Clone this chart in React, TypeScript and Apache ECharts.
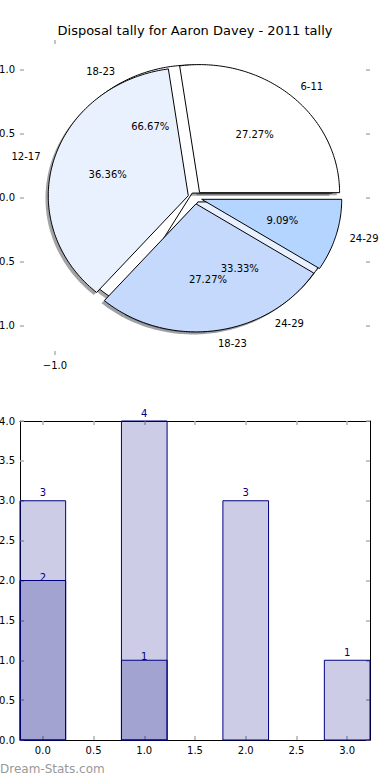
import React, { useEffect, useRef } from 'react';
import * as echarts from 'echarts';

const chartTitle = 'Disposal tally for Aaron Davey - 2011 tally';
const watermark = 'Dream-Stats.com';

// Pie A (outer, 4 groups)
const pieGroups = ['6-11', '12-17', '18-23', '24-29'];
const pieTally = [3, 4, 3, 1];
// Pie B (underneath, 2 groups)
const pieGroupsB = ['18-23', '24-29'];
const pieTallyB = [2, 1];

// Bar chart
const barPositions = [0, 1, 2, 3];
const barTally = [3, 4, 3, 1];
const barPositionsB = [0, 1];
const barTallyB = [2, 1];

// Tick values
const pieYTicks = [-1, -0.5, 0, 0.5, 1];
const pieXTicks = [-1];
const barXTicks = [0, 0.5, 1, 1.5, 2, 2.5, 3];
const barYTicks = [0, 0.5, 1, 1.5, 2, 2.5, 3, 3.5, 4];

const FONT = 'DejaVu Sans';
const wedgeColors = ['#ffffff', '#eaf1fe', '#c5d9fd', '#b4d5ff'];
const EXPLODE_A = 0.05;
const EXPLODE_B = 0.04;
const BAR_HALF = 0.225;
const NAVY = '#000080';
const TICK_GRAY = '#b0b0b0';

type Wedge = {
  t1: number; t2: number; mid: number; ox: number; oy: number;
  label: string; pct: string; color: string;
};

function buildWedges(values: number[], labels: string[], explode: number): Wedge[] {
  const total = values.reduce((a, b) => a + b, 0);
  let cum = 0;
  return values.map((v, i) => {
    const t1 = (cum / total) * 360;
    cum += v;
    const t2 = (cum / total) * 360;
    const mid = ((t1 + t2) / 2) * Math.PI / 180;
    return {
      t1, t2, mid,
      ox: explode * Math.cos(mid),
      oy: explode * Math.sin(mid),
      label: labels[i],
      pct: ((v / total) * 100).toFixed(2) + '%',
      color: wedgeColors[i],
    };
  });
}

const wedgesA = buildWedges(pieTally, pieGroups, EXPLODE_A);
const wedgesB = buildWedges(pieTallyB, pieGroupsB, EXPLODE_B);
const allWedges = [...wedgesB, ...wedgesA];

type PieText = { x: number; y: number; text: string; align: string };
const pieTexts: PieText[] = [];
[wedgesA, wedgesB].forEach((ws) => {
  ws.forEach((w) => {
    const lx = w.ox + 1.1 * Math.cos(w.mid);
    const ly = w.oy + 1.1 * Math.sin(w.mid);
    pieTexts.push({ x: lx, y: ly, text: w.label, align: lx > 0 ? 'left' : 'right' });
    pieTexts.push({
      x: w.ox + 0.6 * Math.cos(w.mid),
      y: w.oy + 0.6 * Math.sin(w.mid),
      text: w.pct,
      align: 'center',
    });
  });
});

function wedgePoints(api: any, w: Wedge, dx = 0, dy = 0) {
  const pts: number[][] = [api.coord([w.ox + dx, w.oy + dy])];
  const n = Math.max(2, Math.ceil(w.t2 - w.t1));
  for (let k = 0; k <= n; k++) {
    const a = (w.t1 + ((w.t2 - w.t1) * k) / n) * Math.PI / 180;
    pts.push(api.coord([w.ox + dx + Math.cos(a), w.oy + dy + Math.sin(a)]));
  }
  return pts;
}

function shadowColor(hex: string) {
  const r = parseInt(hex.slice(1, 3), 16);
  const g = parseInt(hex.slice(3, 5), 16);
  const b = parseInt(hex.slice(5, 7), 16);
  return `rgba(${Math.round(r * 0.3)},${Math.round(g * 0.3)},${Math.round(b * 0.3)},0.5)`;
}

const fmt = (v: number) => (v < 0 ? '\u2212' : '') + Math.abs(v).toFixed(1);

function makeAxis(gridIndex: number, position: string, min: number, max: number, ticks: number[], showLabel: boolean, showLine: boolean) {
  return {
    type: 'value',
    gridIndex,
    position,
    min,
    max,
    axisLine: { show: showLine, onZero: false, lineStyle: { color: '#000', width: 1 } },
    axisTick: {
      show: true,
      inside: true,
      length: 4,
      customValues: ticks,
      lineStyle: { color: TICK_GRAY, width: 1.5 },
    },
    axisLabel: {
      show: showLabel,
      customValues: ticks,
      formatter: fmt,
      color: '#000',
      fontFamily: FONT,
      fontSize: 10,
      margin: 5,
    },
    splitLine: { show: false },
  };
}

export default function App() {
  const ref = useRef<HTMLDivElement>(null);
  useEffect(() => {
    document.body.style.margin = '0';
    if (!ref.current) return;
    const chart = echarts.init(ref.current, undefined, { renderer: 'svg' });

    const option: any = {
      animation: false,
      backgroundColor: '#ffffff',
      title: {
        text: chartTitle,
        left: 'center',
        top: 19,
        textStyle: { fontFamily: FONT, fontSize: 13, fontWeight: 'normal', color: '#000' },
      },
      grid: [
        { left: 20, top: 40, width: 350, height: 315, outerBoundsMode: 'none', containLabel: false },
        { left: 20, top: 421, width: 350, height: 319, outerBoundsMode: 'none', containLabel: false },
      ],
      xAxis: [
        makeAxis(0, 'bottom', -1.25, 1.25, pieXTicks, true, false),
        makeAxis(0, 'top', -1.25, 1.25, pieXTicks, false, false),
        makeAxis(1, 'bottom', -BAR_HALF, 3 + BAR_HALF, barXTicks, true, true),
        makeAxis(1, 'top', -BAR_HALF, 3 + BAR_HALF, barXTicks, false, true),
      ],
      yAxis: [
        makeAxis(0, 'left', -1.23, 1.23, pieYTicks, true, false),
        makeAxis(0, 'right', -1.23, 1.23, pieYTicks, false, false),
        makeAxis(1, 'left', 0, 4, barYTicks, true, true),
        makeAxis(1, 'right', 0, 4, barYTicks, false, true),
      ],
      series: [
        {
          type: 'custom',
          name: 'shadows',
          xAxisIndex: 0,
          yAxisIndex: 0,
          clip: false,
          silent: true,
          data: allWedges.map(() => [0, 0]),
          renderItem: (params: any, api: any) => {
            const w = allWedges[params.dataIndex];
            return {
              type: 'polygon',
              shape: { points: wedgePoints(api, w, -0.02, -0.02) },
              style: { fill: shadowColor(w.color), stroke: 'none' },
            };
          },
        },
        {
          type: 'custom',
          name: 'pieB',
          xAxisIndex: 0,
          yAxisIndex: 0,
          clip: false,
          silent: true,
          data: wedgesB.map(() => [0, 0]),
          renderItem: (params: any, api: any) => {
            const w = wedgesB[params.dataIndex];
            return {
              type: 'polygon',
              shape: { points: wedgePoints(api, w) },
              style: { fill: w.color, stroke: '#000', lineWidth: 1, lineJoin: 'miter' },
            };
          },
        },
        {
          type: 'custom',
          name: 'pieA',
          xAxisIndex: 0,
          yAxisIndex: 0,
          clip: false,
          silent: true,
          data: wedgesA.map(() => [0, 0]),
          renderItem: (params: any, api: any) => {
            const w = wedgesA[params.dataIndex];
            return {
              type: 'polygon',
              shape: { points: wedgePoints(api, w) },
              style: { fill: w.color, stroke: '#000', lineWidth: 1, lineJoin: 'miter' },
            };
          },
        },
        {
          type: 'custom',
          name: 'pieLabels',
          xAxisIndex: 0,
          yAxisIndex: 0,
          clip: false,
          silent: true,
          data: pieTexts.map((t) => [t.x, t.y]),
          renderItem: (params: any, api: any) => {
            const t = pieTexts[params.dataIndex];
            const p = api.coord([t.x, t.y]);
            return {
              type: 'text',
              x: p[0],
              y: p[1],
              style: {
                text: t.text,
                align: t.align,
                verticalAlign: 'middle',
                fill: '#000',
                font: `10px "${FONT}"`,
              },
            };
          },
        },
        {
          type: 'custom',
          name: 'barsAll',
          xAxisIndex: 2,
          yAxisIndex: 2,
          clip: false,
          silent: true,
          data: barPositions.map((x, i) => [x, barTally[i]]),
          renderItem: (params: any, api: any) => {
            const x = api.value(0);
            const v = api.value(1);
            const p1 = api.coord([x - BAR_HALF, v]);
            const p2 = api.coord([x + BAR_HALF, 0]);
            return {
              type: 'group',
              children: [
                {
                  type: 'rect',
                  shape: { x: p1[0], y: p1[1], width: p2[0] - p1[0], height: p2[1] - p1[1] },
                  style: { fill: 'rgba(0,0,128,0.2)', stroke: NAVY, lineWidth: 1 },
                },
                {
                  type: 'text',
                  x: (p1[0] + p2[0]) / 2,
                  y: p1[1] - 8,
                  style: { text: String(v), align: 'center', verticalAlign: 'middle', fill: NAVY, font: `10px "${FONT}"` },
                },
              ],
            };
          },
        },
        {
          type: 'custom',
          name: 'barsB',
          xAxisIndex: 2,
          yAxisIndex: 2,
          clip: false,
          silent: true,
          data: barPositionsB.map((x, i) => [x, barTallyB[i]]),
          renderItem: (params: any, api: any) => {
            const x = api.value(0);
            const v = api.value(1);
            const p1 = api.coord([x - BAR_HALF, v]);
            const p2 = api.coord([x + BAR_HALF, 0]);
            return {
              type: 'group',
              children: [
                {
                  type: 'rect',
                  shape: { x: p1[0], y: p1[1], width: p2[0] - p1[0], height: p2[1] - p1[1] },
                  style: { fill: 'rgba(0,0,128,0.2)', stroke: NAVY, lineWidth: 1 },
                },
                {
                  type: 'text',
                  x: (p1[0] + p2[0]) / 2,
                  y: p1[1] - 3.5,
                  style: { text: String(v), align: 'center', verticalAlign: 'middle', fill: NAVY, font: `10px "${FONT}"` },
                },
              ],
            };
          },
        },
      ],
      graphic: [
        {
          type: 'text',
          left: 0,
          top: 763,
          style: {
            text: watermark,
            fill: '#999999',
            font: `12px "${FONT}"`,
          },
        },
      ],
    };

    chart.setOption(option);
    return () => chart.dispose();
  }, []);

  return <div ref={ref} style={{ width: 390, height: 780 }} />;
}
